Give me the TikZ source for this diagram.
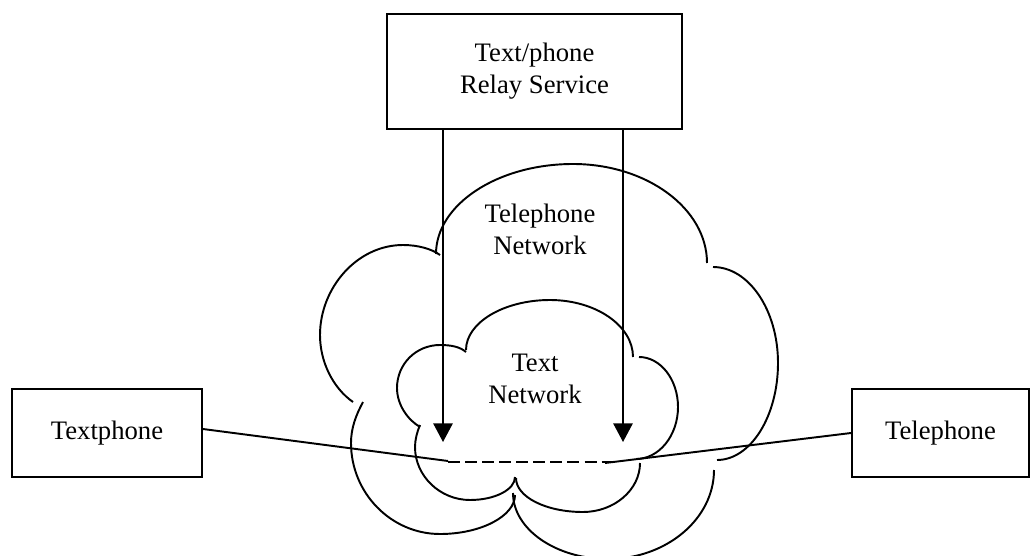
\documentclass[tikz,border=0pt]{standalone}
\usepackage{fontspec}
\setmainfont{Liberation Serif}
\usetikzlibrary{arrows.meta}
\begin{document}
\begin{tikzpicture}[x=0.75pt, y=-0.75pt, line width=1.45pt,
  txt/.style={font=\fontsize{20}{24}\selectfont, align=center},
  box/.style={txt, draw, rectangle, inner sep=0pt},
  relayarrow/.style={-{Triangle[length=14pt, width=14.5pt]}},
  dashline/.style={dash pattern=on 9pt off 3.8pt}]
\useasboundingbox (0,0) rectangle (1031,556);

% devices and relay service
\node[box, minimum width=221pt, minimum height=86pt] (relay) at (534.5,71.5) {Text/phone\\Relay Service};
\node[box, minimum width=142.5pt, minimum height=66pt] (tp) at (107,433) {Textphone};
\node[box, minimum width=132.75pt, minimum height=66pt] (tel) at (940.5,433) {Telephone};

% telephone network cloud (outer), one arc per lobe
\draw (353,402) .. controls (333,388) and (320,362) .. (320,335)
      .. controls (320,288) and (357,245) .. (403,245)
      .. controls (418,245) and (432,249) .. (440,255);
\draw (436,254) .. controls (436,204.5) and (497.6,164) .. (573,164)
      .. controls (646.7,164) and (707,208.5) .. (707,263);
\draw (713,267) .. controls (748.8,267) and (778,310.2) .. (778,363)
      .. controls (778,416.4) and (750.5,460) .. (717,460);
\draw (714,470) .. controls (714,519) and (666.3,559) .. (608,559)
      .. controls (556,559) and (513,529.3) .. (513,493);
\draw (363,402) .. controls (356,415) and (351,428) .. (351,443)
      .. controls (351,493) and (391,534) .. (440,534)
      .. controls (481,534) and (515,516) .. (515,495);

% text network cloud (inner), one arc per lobe
\draw (466,350) .. controls (466,322.5) and (504,300) .. (550,300)
      .. controls (595.6,300) and (633,325.6) .. (633,357);
\draw (639,357) .. controls (660.5,357) and (678,379.5) .. (678,407)
      .. controls (678,435.6) and (659,459) .. (636,459);
\draw (640,463) .. controls (640,490) and (614,512) .. (583,512)
      .. controls (546,512) and (516,497) .. (516,478);
\draw (515,477) .. controls (515,489.7) and (494.75,500) .. (470,500)
      .. controls (440,500) and (415,476) .. (415,447)
      .. controls (415,440) and (417,432) .. (420,425);
\draw (420,427) .. controls (408,420) and (397,405) .. (397,388)
      .. controls (397,364) and (416,345) .. (440,345)
      .. controls (452,345) and (460,347) .. (466,352);

% cloud labels
\node[txt, inner sep=0pt] (telnet) at (540,229) {Telephone\\Network};
\node[txt, inner sep=0pt] (txtnet) at (535,379) {Text\\Network};

% relay connections into the text network
\coordinate (a1) at (443,442);
\coordinate (a2) at (623,442);
\draw[relayarrow] (relay.south -| a1) -- (a1);
\draw[relayarrow] (relay.south -| a2) -- (a2);

% end-to-end call path
\coordinate (jl) at (448,461);
\coordinate (jr) at (617,462);
\coordinate (jt) at (605,463);
\draw ([yshift=3pt]tp.east) -- (jl);
\draw[dashline] (jl |- jr) -- (jr);
\draw (tel.west) -- (jt);
\end{tikzpicture}
\end{document}
